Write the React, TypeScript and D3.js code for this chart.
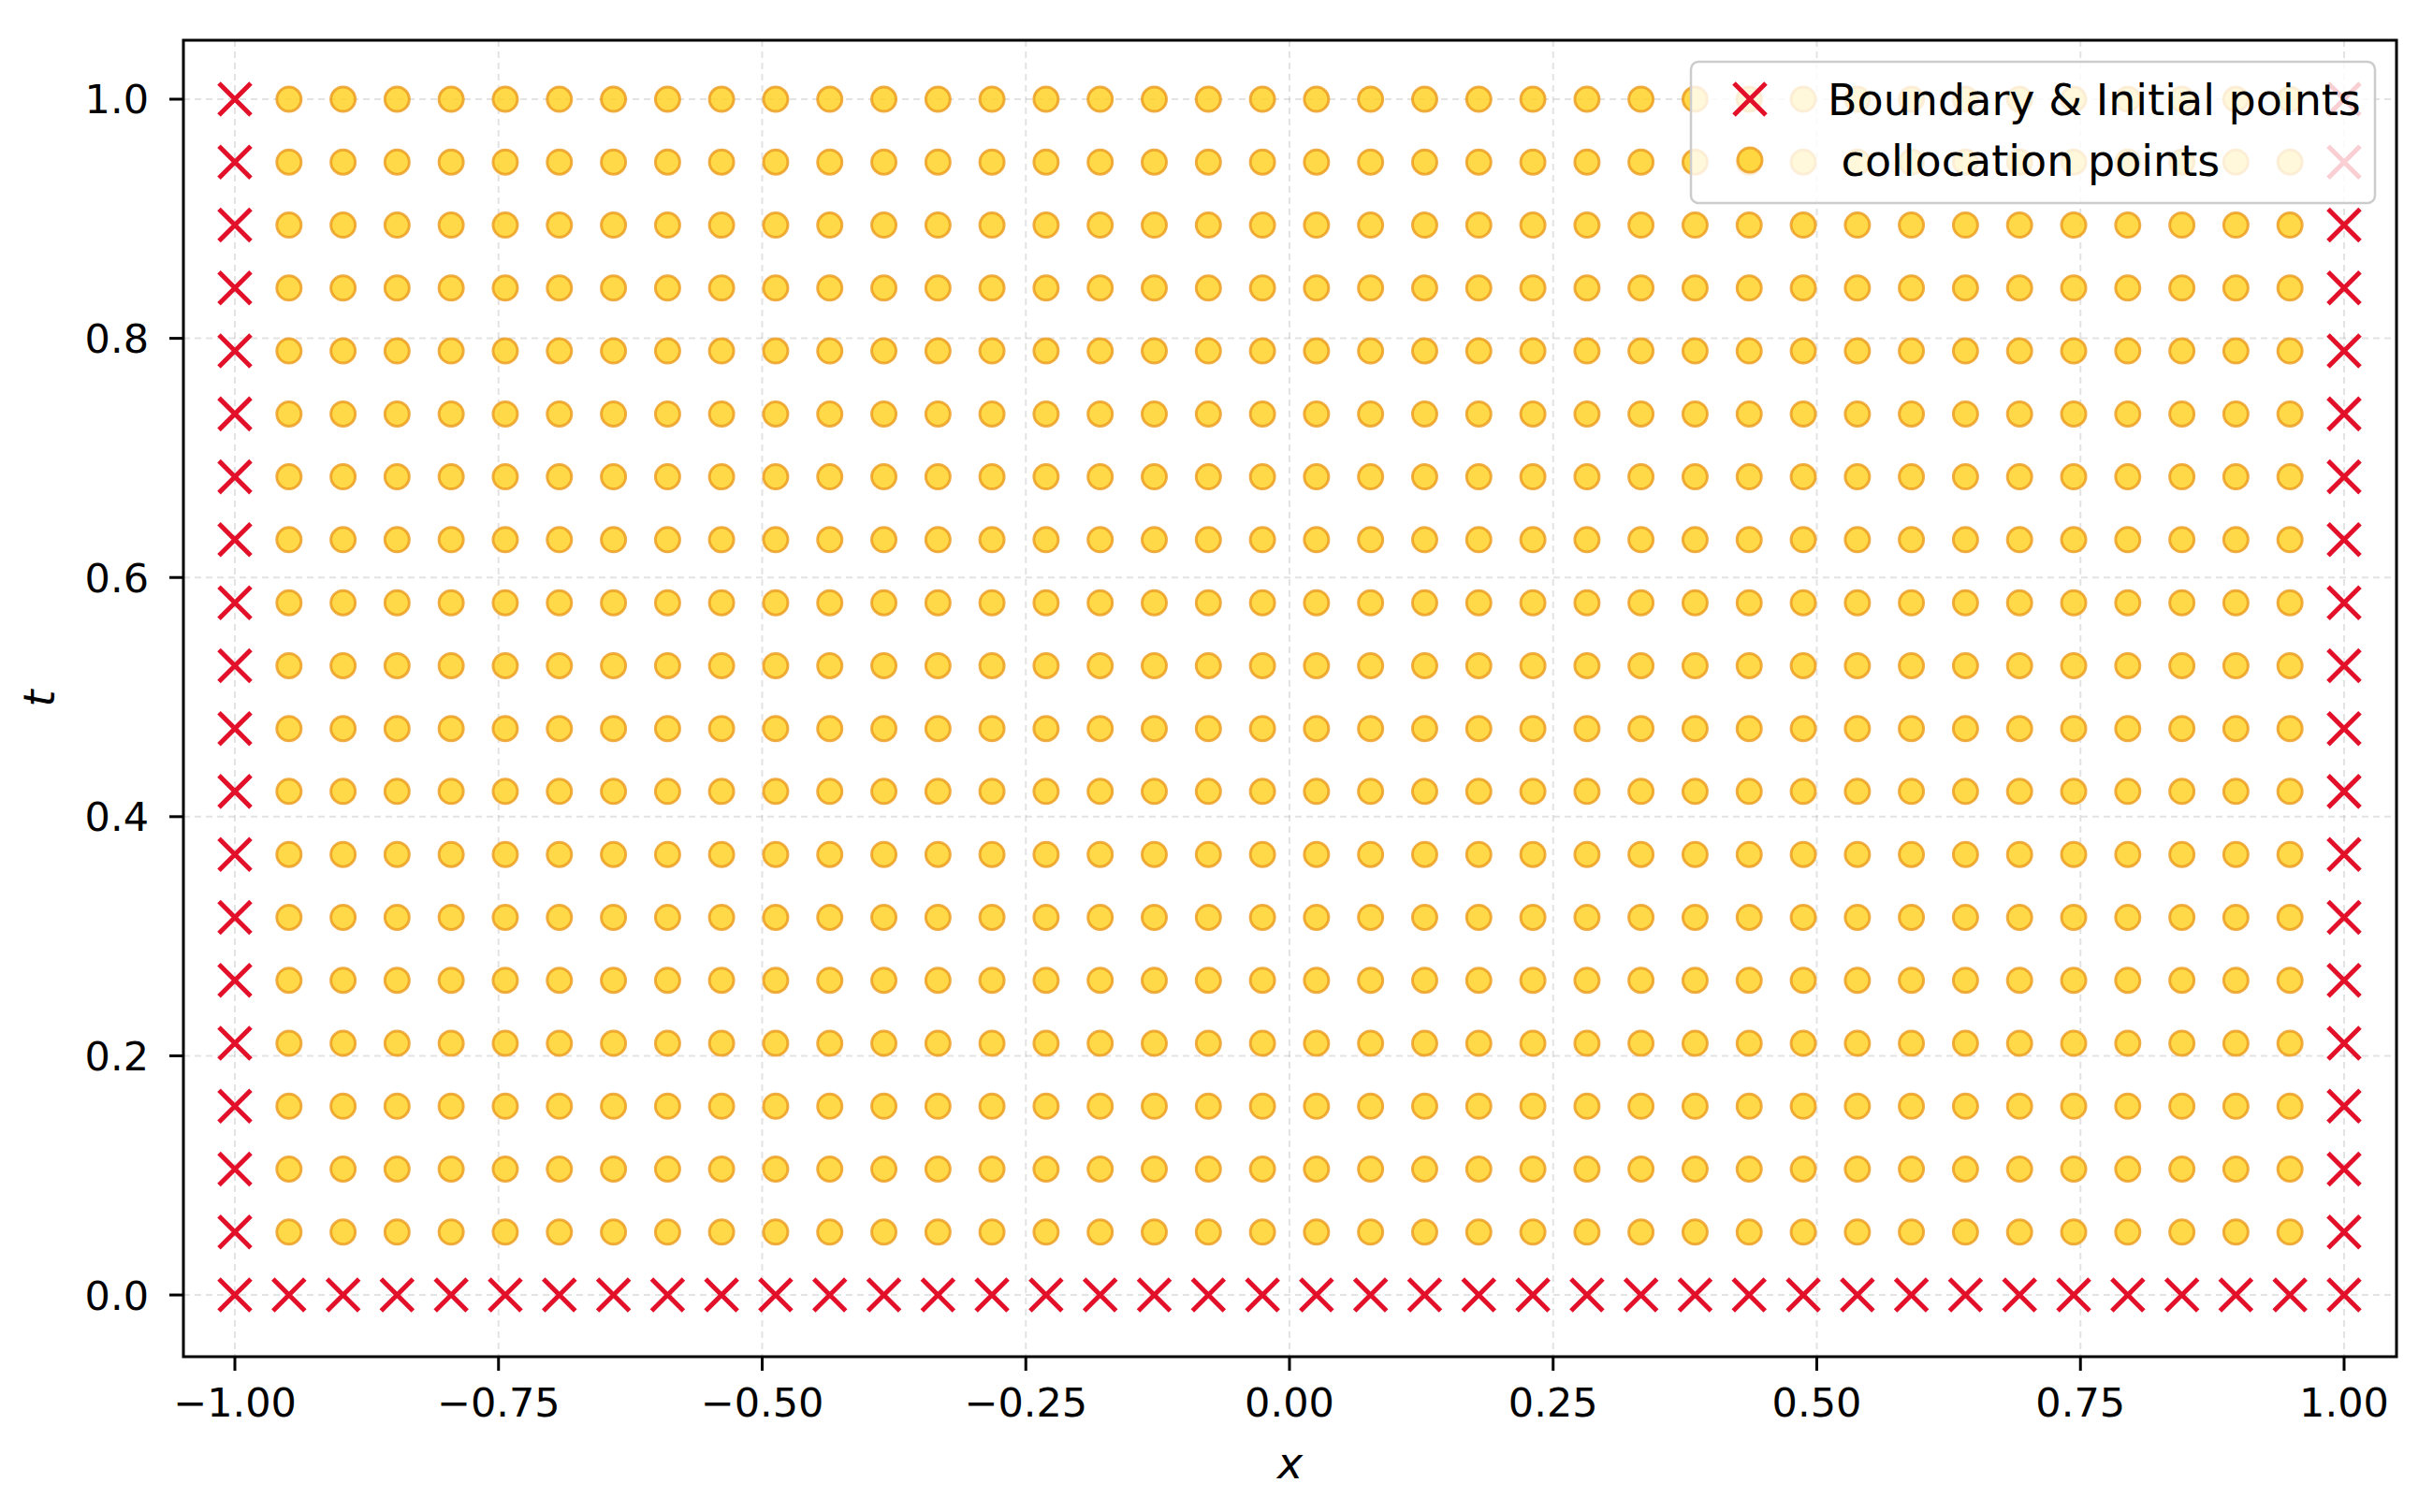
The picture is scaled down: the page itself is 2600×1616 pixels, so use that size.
import React, { useEffect } from 'react';
import * as d3 from 'd3';

// grid nodes (40 columns in x, 20 rows in t)
const xNodes = [
  -1, -0.9487, -0.8974, -0.8462, -0.7949, -0.7436, -0.6923, -0.641, -0.5897, -0.5385,
  -0.4872, -0.4359, -0.3846, -0.3333, -0.2821, -0.2308, -0.1795, -0.1282, -0.0769, -0.0256,
  0.0256, 0.0769, 0.1282, 0.1795, 0.2308, 0.2821, 0.3333, 0.3846, 0.4359, 0.4872,
  0.5385, 0.5897, 0.641, 0.6923, 0.7436, 0.7949, 0.8462, 0.8974, 0.9487, 1,
];
const tNodes = [
  0, 0.0526, 0.1053, 0.1579, 0.2105, 0.2632, 0.3158, 0.3684, 0.4211, 0.4737,
  0.5263, 0.5789, 0.6316, 0.6842, 0.7368, 0.7895, 0.8421, 0.8947, 0.9474, 1,
];
const xTicks = [-1, -0.75, -0.5, -0.25, 0, 0.25, 0.5, 0.75, 1];
const tTicks = [0, 0.2, 0.4, 0.6, 0.8, 1.0];
const legendLabels = ['Boundary & Initial points', ' collocation points'];

const W = 2600;
const H = 1616;
const plot = { left: 196, right: 2561, top: 43, bottom: 1450 };
const RED = '#e3102a';
const FONT = 'DejaVu Sans, sans-serif';

type Pt = { x: number; t: number };

const App = () => {
  useEffect(() => {
    document.body.style.margin = '0';
  }, []);

  const x = d3.scaleLinear().domain([-1.0488, 1.0497]).range([plot.left, plot.right]);
  const y = d3.scaleLinear().domain([-0.0516, 1.0493]).range([plot.bottom, plot.top]);

  // boundary: x = -1, x = 1 and t = 0 ; collocation: the rest of the grid
  const boundary: Pt[] = [];
  const colloc: Pt[] = [];
  xNodes.forEach((xv, i) => {
    tNodes.forEach((tv, j) => {
      if (i === 0 || i === xNodes.length - 1 || j === 0) boundary.push({ x: xv, t: tv });
      else colloc.push({ x: xv, t: tv });
    });
  });

  const fx = d3.format('.2f');
  const ft = d3.format('.1f');
  const cs = 17; // half size of cross marker

  const cross = (cx: number, cy: number, key: string) => (
    <path
      key={key}
      d={`M${cx - cs},${cy - cs}L${cx + cs},${cy + cs}M${cx - cs},${cy + cs}L${cx + cs},${cy - cs}`}
      stroke={RED}
      strokeWidth={5}
      fill="none"
    />
  );

  const dot = (cx: number, cy: number, key: string) => (
    <circle
      key={key}
      cx={cx}
      cy={cy}
      r={13}
      fill="#ffcf1a"
      fillOpacity={0.8}
      stroke="#eb9a1c"
      strokeOpacity={0.8}
      strokeWidth={3}
    />
  );

  const lg = { x: 1807, y: 66, w: 731, h: 151 };
  const rowY = [106, 171];

  return (
    <svg width={W} height={H} style={{ display: 'block', background: '#fff' }} fontFamily={FONT}>
      {/* grid */}
      <g stroke="#b0b0b0" strokeOpacity={0.35} strokeWidth={2} strokeDasharray="7,5">
        {xTicks.map(d => (
          <line key={'gx' + d} x1={x(d)} x2={x(d)} y1={plot.top} y2={plot.bottom} />
        ))}
        {tTicks.map(d => (
          <line key={'gy' + d} x1={plot.left} x2={plot.right} y1={y(d)} y2={y(d)} />
        ))}
      </g>

      {/* collocation points */}
      <g>{colloc.map((p, i) => dot(x(p.x), y(p.t), 'c' + i))}</g>

      {/* boundary & initial points */}
      <g>{boundary.map((p, i) => cross(x(p.x), y(p.t), 'b' + i))}</g>

      {/* spines */}
      <rect
        x={plot.left}
        y={plot.top}
        width={plot.right - plot.left}
        height={plot.bottom - plot.top}
        fill="none"
        stroke="#000"
        strokeWidth={3}
      />

      {/* x axis */}
      <g>
        {xTicks.map(d => (
          <g key={'xt' + d} transform={`translate(${x(d)},${plot.bottom})`}>
            <line y1={0} y2={15} stroke="#000" strokeWidth={3} />
            <text y={64} textAnchor="middle" fontSize={43} fill="#000">
              {fx(d)}
            </text>
          </g>
        ))}
        <text
          x={(plot.left + plot.right) / 2}
          y={1580}
          textAnchor="middle"
          fontSize={46}
          fontStyle="italic"
          fill="#000"
        >
          x
        </text>
      </g>

      {/* t axis */}
      <g>
        {tTicks.map(d => (
          <g key={'yt' + d} transform={`translate(${plot.left},${y(d)})`}>
            <line x1={0} x2={-15} stroke="#000" strokeWidth={3} />
            <text x={-37} dy="0.36em" textAnchor="end" fontSize={43} fill="#000">
              {ft(d)}
            </text>
          </g>
        ))}
        <text
          transform={`translate(58,${(plot.top + plot.bottom) / 2}) rotate(-90)`}
          textAnchor="middle"
          fontSize={46}
          fontStyle="italic"
          fill="#000"
        >
          t
        </text>
      </g>

      {/* legend */}
      <g>
        <rect
          x={lg.x}
          y={lg.y}
          width={lg.w}
          height={lg.h}
          rx={8}
          fill="#fff"
          fillOpacity={0.8}
          stroke="#cccccc"
          strokeWidth={2.5}
        />
        {cross(1870, rowY[0], 'lg0')}
        {dot(1870, rowY[1], 'lg1')}
        {legendLabels.map((s, i) => (
          <text
            key={'lt' + i}
            x={1953}
            y={rowY[i]}
            dy="0.36em"
            fontSize={46}
            fill="#000"
            style={{ whiteSpace: 'pre' }}
          >
            {s}
          </text>
        ))}
      </g>
    </svg>
  );
};

export default App;
